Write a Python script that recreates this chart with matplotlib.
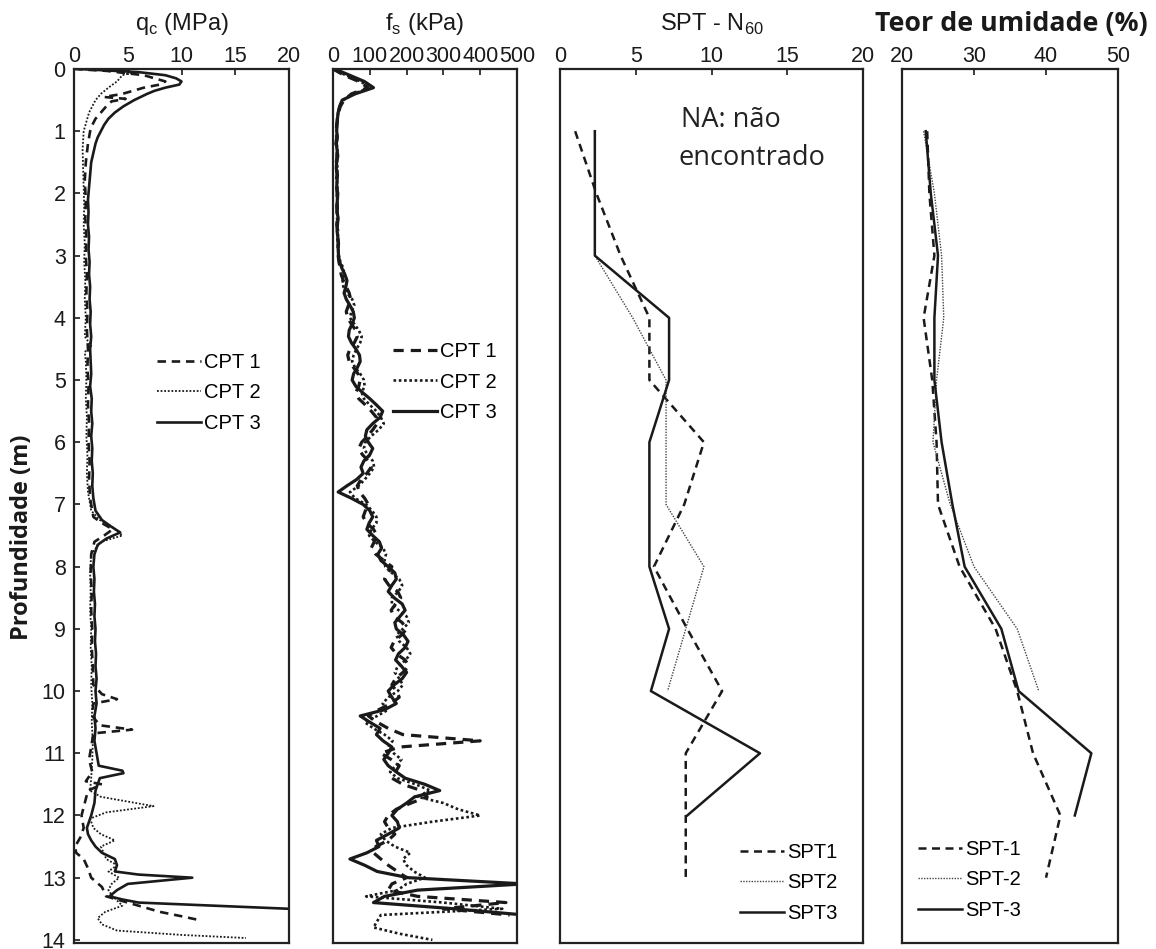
import numpy as np
import matplotlib
matplotlib.use("Agg")
import matplotlib.pyplot as plt

plt.rcParams['font.family'] = ['Liberation Sans', 'DejaVu Sans']
plt.rcParams['mathtext.fontset'] = 'custom'
plt.rcParams['mathtext.rm'] = 'Liberation Sans'

# ---- qc (MPa) ----
qc1_depth = [0.00, 0.03, 0.10, 0.20, 0.25, 0.30, 0.40, 0.45, 0.48, 0.52, 0.60, 0.70, 0.80, 0.90, 1.00,
             1.20, 1.50, 1.80, 2.10, 2.40, 2.70, 3.00, 3.30, 3.60, 3.90, 4.20, 4.50, 4.80, 5.10, 5.40,
             5.70, 6.00, 6.30, 6.60, 6.90, 7.20, 7.30, 7.40, 7.50, 7.60, 7.80, 8.10, 8.40, 8.70, 9.00,
             9.30, 9.60, 9.90, 10.05, 10.13, 10.20, 10.40, 10.55, 10.62, 10.68, 10.90, 11.10, 11.30, 11.45,
             11.50, 11.60, 11.80, 12.00, 12.20, 12.35, 12.50, 12.60, 12.70, 12.85, 13.00, 13.15, 13.30,
             13.45, 13.55, 13.62, 13.68]
qc1_val = [0.0, 3.0, 6.5, 8.5, 8.0, 6.5, 4.5, 2.8, 4.8, 3.5, 3.0, 2.5, 2.0, 1.7, 1.5,
           1.3, 1.1, 1.0, 1.1, 1.05, 1.15, 1.1, 1.2, 1.15, 1.25, 1.2, 1.3, 1.25, 1.35, 1.3,
           1.4, 1.35, 1.45, 1.4, 1.5, 1.8, 2.6, 3.6, 2.8, 1.9, 1.6, 1.55, 1.65, 1.6, 1.7,
           1.65, 1.75, 1.8, 2.6, 4.0, 1.8, 1.7, 2.4, 5.4, 1.8, 1.6, 1.4, 1.7, 1.1,
           2.6, 1.3, 1.0, 0.7, 0.9, 0.6, 0.1, 0.2, 0.9, 1.3, 1.6, 2.6, 3.0,
           6.0, 8.0, 10.0, 11.6]

qc2_depth = [0.00, 0.02, 0.05, 0.10, 0.20, 0.30, 0.40, 0.50, 0.70, 1.00, 1.30, 1.60, 1.90, 2.20, 2.50,
             2.80, 3.10, 3.40, 3.70, 4.00, 4.30, 4.45, 4.55, 4.70, 5.00, 5.30, 5.60, 5.90, 6.20, 6.50,
             6.80, 7.10, 7.25, 7.35, 7.50, 7.60, 7.80, 8.10, 8.40, 8.70, 9.00, 9.30, 9.60, 9.90, 10.20,
             10.50, 10.80, 11.10, 11.40, 11.60, 11.70, 11.85, 11.95, 12.05, 12.20, 12.30, 12.40, 12.50,
             12.70, 12.80, 12.90, 13.00, 13.10, 13.20, 13.30, 13.45, 13.55, 13.65, 13.75, 13.85, 13.92,
             13.97]
qc2_val = [0.0, 5.0, 5.5, 4.5, 4.0, 3.2, 2.5, 2.0, 1.4, 0.9, 0.8, 0.85, 0.9, 0.95, 0.9,
           1.0, 0.95, 1.05, 1.0, 1.1, 1.0, 1.6, 1.0, 1.1, 1.15, 1.1, 1.2, 1.15, 1.25, 1.2,
           1.3, 1.6, 2.4, 3.5, 4.5, 2.5, 1.6, 1.5, 1.55, 1.5, 1.6, 1.55, 1.65, 1.6, 1.7,
           1.65, 1.75, 1.7, 1.6, 1.5, 2.5, 7.4, 3.0, 1.5, 1.8, 2.5, 3.8, 2.5,
           3.0, 4.0, 3.2, 4.2, 3.5, 3.2, 3.6, 4.5, 2.9, 2.2, 2.6, 4.0, 10.0,
           16.0]

qc3_depth = [0.00, 0.05, 0.10, 0.15, 0.20, 0.25, 0.30, 0.35, 0.40, 0.50, 0.60, 0.70, 0.80, 0.90, 1.00,
             1.10, 1.20, 1.35, 1.50, 1.70, 1.90, 2.10, 2.30, 2.50, 2.70, 2.90, 3.10, 3.30, 3.50, 3.70,
             3.90, 4.10, 4.30, 4.50, 4.70, 4.90, 5.10, 5.30, 5.50, 5.70, 5.90, 6.10, 6.30, 6.50, 6.70,
             6.90, 7.10, 7.25, 7.35, 7.45, 7.55, 7.65, 7.80, 8.00, 8.20, 8.40, 8.60, 8.80, 9.00, 9.20,
             9.40, 9.60, 9.80, 10.00, 10.20, 10.40, 10.60, 10.80, 11.00, 11.20, 11.28, 11.32, 11.40,
             11.50, 11.60, 11.80, 12.00, 12.10, 12.20, 12.30, 12.40, 12.50, 12.60, 12.70, 12.80, 12.90,
             12.95, 13.00, 13.05, 13.10, 13.20, 13.30, 13.35, 13.40, 13.45, 13.50, 13.55]
qc3_val = [0.5, 6.0, 8.5, 9.5, 10.0, 9.8, 8.5, 7.5, 6.8, 5.6, 4.6, 3.8, 3.2, 2.8, 2.5,
           2.2, 2.0, 1.8, 1.6, 1.5, 1.4, 1.3, 1.35, 1.3, 1.4, 1.35, 1.45, 1.4, 1.5, 1.45,
           1.55, 1.5, 1.6, 1.5, 1.55, 1.6, 1.5, 1.65, 1.6, 1.7, 1.6, 1.7, 1.65, 1.75, 1.7,
           1.8, 2.0, 2.6, 3.4, 4.3, 3.0, 2.2, 1.9, 1.8, 1.9, 1.85, 1.95, 1.9, 2.0, 1.95,
           2.05, 2.0, 2.1, 2.0, 2.1, 1.9, 2.0, 1.9, 2.1, 2.3, 4.5, 4.6, 2.4,
           2.2, 2.0, 1.9, 1.6, 1.4, 1.2, 1.3, 1.6, 2.0, 2.6, 3.8, 4.0, 3.8,
           6.0, 11.0, 8.0, 5.0, 4.0, 3.3, 4.5, 6.0, 13.0, 20.0, 22.0]

# ---- fs (kPa), one reading every 0.1 m from the surface ----
fs_step = 0.1
fs1_val = [0, 30, 70, 95, 50, 30, 20, 15, 12, 10,
           9, 10, 8, 10, 11, 9, 10, 11, 9, 10,
           11, 10, 12, 11, 12, 10, 13, 12, 14, 13,
           14, 16, 20, 22, 28, 36, 44, 48, 42, 36,
           40, 50, 62, 66, 58, 46, 40, 44, 56, 68,
           74, 70, 62, 70, 88, 104, 118, 120, 108, 94,
           78, 70, 80, 96, 104, 92, 76, 66, 72, 86,
           96, 88, 82, 92, 110, 120, 112, 104, 116, 138,
           160, 150, 140, 152, 176, 184, 170, 158, 166, 188,
           200, 186, 166, 158, 172, 196, 206, 190, 170, 160,
           172, 180, 158, 124, 96, 120, 150, 190, 400, 180,
           130, 158, 180, 170, 160, 190, 240, 256, 212, 172,
           150, 140, 150, 168, 150, 116, 110, 130, 150, 175,
           200, 160, 150, 230, 470, 300, 480]
fs2_val = [0, 35, 75, 100, 55, 28, 18, 14, 12, 10,
           10, 11, 10, 12, 10, 11, 12, 10, 11, 12,
           12, 11, 13, 12, 11, 13, 12, 14, 13, 15,
           16, 20, 28, 30, 26, 28, 38, 52, 58, 50,
           46, 58, 70, 78, 74, 64, 56, 52, 60, 74,
           84, 86, 78, 84, 100, 118, 130, 138, 124, 104,
           88, 84, 94, 108, 112, 100, 86, 70, 46, 60,
           90, 106, 118, 118, 104, 98, 114, 136, 144, 140,
           142, 160, 180, 188, 178, 160, 160, 178, 200, 206,
           190, 172, 180, 200, 210, 198, 176, 168, 180, 190,
           176, 150, 135, 150, 120, 86, 110, 140, 162, 150,
           165, 186, 170, 155, 175, 225, 265, 230, 300, 340,
           400, 270, 160, 130, 142, 168, 210, 190, 200, 220,
           250, 200, 175, 90, 300, 460, 130, 120, 110, 180,
           270]
fs3_val = [5, 45, 85, 110, 60, 25, 18, 14, 12, 11,
           10, 12, 9, 11, 13, 10, 9, 12, 11, 10,
           13, 12, 10, 11, 14, 12, 11, 13, 15, 14,
           15, 18, 24, 32, 38, 35, 30, 36, 46, 55,
           58, 52, 44, 42, 50, 62, 72, 74, 66, 56,
           52, 62, 80, 100, 118, 135, 128, 108, 92, 88,
           96, 108, 100, 84, 76, 82, 64, 38, 14, 50,
           82, 100, 108, 98, 92, 108, 126, 132, 122, 130,
           150, 168, 172, 160, 150, 166, 188, 196, 182, 168,
           172, 192, 204, 196, 178, 170, 186, 200, 188, 166,
           150, 160, 172, 140, 74, 100, 128, 118, 136, 160,
           150, 138, 150, 172, 196, 250, 290, 222, 200, 175,
           160, 175, 180, 150, 118, 125, 92, 46, 86, 120,
           205, 520, 230, 140, 110, 330, 520]

# ---- SPT N60 ----
spt_depth = [1, 2, 3, 4, 5, 6, 7, 8, 9, 10, 11, 12, 13]
spt1_n = [1.0, 2.4, 4.0, 5.9, 5.9, 9.5, 8.2, 6.2, 8.4, 10.7, 8.3, 8.3, 8.3]
spt2_n = [2.3, 2.3, 2.3, 4.8, 7.0, 7.0, 7.0, 9.5, 8.3, 7.1]
spt3_n = [2.3, 2.3, 2.3, 7.2, 7.2, 5.9, 5.9, 5.9, 7.2, 6.0, 13.2, 8.4]

# ---- teor de umidade (%) ----
w_depth = [1, 2, 3, 4, 5, 6, 7, 8, 9, 10, 11, 12, 13]
w1 = [23.5, 23.8, 24.5, 23.0, 24.2, 24.8, 25.0, 28.0, 33.0, 36.0, 38.2, 42.0, 40.0]
w2 = [23.0, 24.5, 25.5, 25.8, 24.8, 24.3, 26.7, 30.0, 36.0, 39.0]
w3 = [23.3, 24.0, 25.0, 24.5, 24.5, 25.5, 27.0, 28.7, 33.8, 36.2, 46.3, 44.0]

W, H = 1156, 949
TOP, BOT = 69, 943
INK = '#1a1a1a'
DASH = (0, (3.2, 2.2))
DOT = (0, (1, 1))

fig = plt.figure(figsize=(W / 100, H / 100), dpi=100)


def make_axes(x0, x1, xlim, xticks):
    ax = fig.add_axes([x0 / W, 1 - BOT / H, (x1 - x0) / W, (BOT - TOP) / H])
    ax.set_xlim(*xlim)
    ax.set_ylim(14.05, 0)
    ax.set_xticks(xticks)
    ax.xaxis.tick_top()
    ax.tick_params(axis='x', direction='in', length=4, width=1.2, pad=1.5,
                   labelsize=15.5, colors=INK, top=True, bottom=False)
    ax.tick_params(axis='y', left=False, labelleft=False)
    for s in ax.spines.values():
        s.set_linewidth(1.6)
        s.set_color('#222222')
    return ax


def leg(ax, x_px, y_px, x0, x1):
    fx = (x_px - x0) / (x1 - x0)
    fy = 1 - (y_px - TOP) / (BOT - TOP)
    ax.legend(loc='center left', bbox_to_anchor=(fx, fy), frameon=False, fontsize=14.5,
              handlelength=2.2, handletextpad=0.15, labelspacing=0.55,
              borderpad=0, borderaxespad=0)


# qc
ax1 = make_axes(74, 289, (0, 20), [0, 5, 10, 15, 20])
ax1.plot(qc1_val, qc1_depth, color=INK, lw=1.9, ls=DASH, label='CPT 1')
ax1.plot(qc2_val, qc2_depth, color=INK, lw=1.3, ls=DOT, label='CPT 2')
ax1.plot(qc3_val, qc3_depth, color=INK, lw=1.9, label='CPT 3')
ax1.set_yticks(range(0, 15))
ax1.tick_params(axis='y', left=True, labelleft=True, direction='in', length=4, width=1.2,
                pad=6, labelsize=15.5, colors=INK)
leg(ax1, 157, 393, 74, 289)

# fs
ax2 = make_axes(333, 517, (0, 500), [0, 100, 200, 300, 400, 500])
fs1_depth = np.arange(len(fs1_val)) * fs_step
fs2_depth = np.arange(len(fs2_val)) * fs_step
fs3_depth = np.arange(len(fs3_val)) * fs_step
ax2.plot(fs1_val, fs1_depth, color=INK, lw=2.3, ls=DASH, label='CPT 1')
ax2.plot(fs2_val, fs2_depth, color=INK, lw=1.9, ls=DOT, label='CPT 2')
ax2.plot(fs3_val, fs3_depth, color=INK, lw=2.3, label='CPT 3')
leg(ax2, 393, 382, 333, 517)

# SPT
ax3 = make_axes(560, 863, (0, 20), [0, 5, 10, 15, 20])
ax3.plot(spt1_n, spt_depth[:len(spt1_n)], color=INK, lw=1.8, ls=DASH, label='SPT1')
ax3.plot(spt2_n, spt_depth[:len(spt2_n)], color='#444444', lw=1.0, ls=DOT, label='SPT2')
ax3.plot(spt3_n, spt_depth[:len(spt3_n)], color=INK, lw=1.8, label='SPT3')
leg(ax3, 740, 883, 560, 863)
ax3.text((681 - 560) / 303, 1 - (120 - TOP) / (BOT - TOP), 'NA: não', transform=ax3.transAxes,
         family=['Open Sans', 'DejaVu Sans'], fontsize=19.5, va='center', ha='left', color='#222222')
ax3.text((679 - 560) / 303, 1 - (158 - TOP) / (BOT - TOP), 'encontrado', transform=ax3.transAxes,
         family=['Open Sans', 'DejaVu Sans'], fontsize=19.5, va='center', ha='left', color='#222222')

# moisture
ax4 = make_axes(902, 1118, (20, 50), [20, 30, 40, 50])
ax4.plot(w1, w_depth[:len(w1)], color=INK, lw=1.8, ls=DASH, label='SPT-1')
ax4.plot(w2, w_depth[:len(w2)], color='#444444', lw=1.0, ls=DOT, label='SPT-2')
ax4.plot(w3, w_depth[:len(w3)], color=INK, lw=1.8, label='SPT-3')
leg(ax4, 918, 880, 902, 1118)

# titles
ty = 1 - 24 / H
fig.text((74 + 289) / 2 / W, ty, r'q$_\mathregular{c}$ (MPa)', fontsize=17, ha='center', va='center', color=INK)
fig.text((333 + 517) / 2 / W, ty, r'f$_\mathregular{s}$ (kPa)', fontsize=17, ha='center', va='center', color=INK)
fig.text((560 + 863) / 2 / W, ty, r'SPT - N$_\mathregular{60}$', fontsize=17, ha='center', va='center', color=INK)
fig.text(1011 / W, ty, 'Teor de umidade (%)', fontsize=19.3, fontweight='bold',
         family=['Open Sans', 'DejaVu Sans'], ha='center', va='center', color=INK)
fig.text(22 / W, 1 - 537 / H, 'Profundidade (m)', rotation=90, fontsize=17, fontweight='bold',
         family=['Open Sans', 'DejaVu Sans'], ha='center', va='center', color=INK)

fig.savefig('out.png', dpi=100)
